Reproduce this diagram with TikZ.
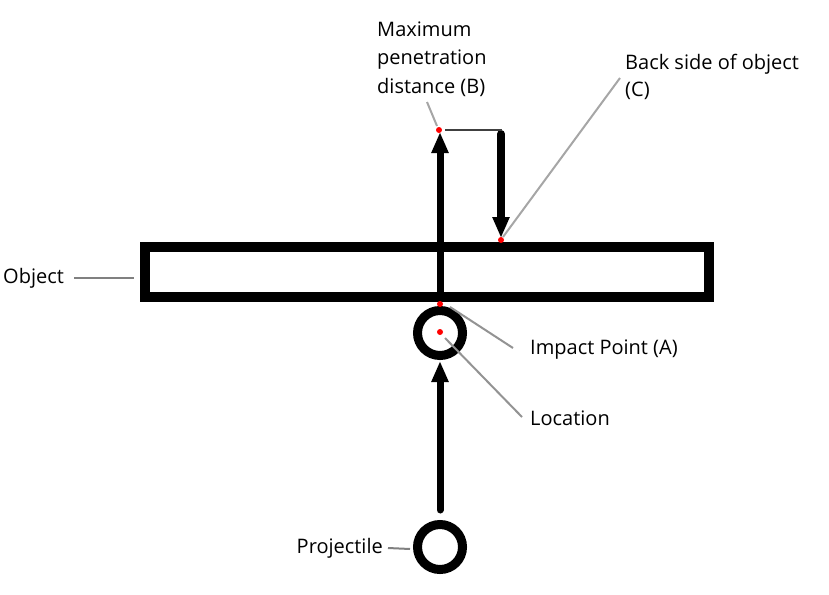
\documentclass[tikz,border=0pt]{standalone}
\usepackage{fontspec}
\setmainfont{Open Sans}
\usetikzlibrary{arrows.meta}

\begin{document}
\begin{tikzpicture}[x=1pt, y=-1pt, >={Triangle[length=21pt,width=16pt]},
  font=\fontsize{20}{28.5}\selectfont,
  lead/.style={draw=gray!85, line width=2pt},
  reddot/.style={circle, fill=red, inner sep=0pt, minimum size=6pt},
  ring/.style={circle, draw, line width=9pt, minimum size=45pt, inner sep=0pt},
  lbl/.style={anchor=west, inner sep=0pt, align=left}]
  \useasboundingbox (0,0) rectangle (829,594);
  % object and projectile
  \node[draw, line width=10pt, minimum width=564pt, minimum height=50pt, inner sep=0pt] (obj) at (427,272) {};
  \node[ring] (loc) at (440,333) {};
  \node[ring] (proj) at (440,547) {};
  % red marks
  \node[reddot] (dotA) at (440,304) {};
  \node[reddot] (dotL) at (440,332) {};
  \node[reddot] (dotB) at (439,130) {};
  \node[reddot] (dotC) at (501,240) {};
  % labels
  \node[lbl] (lobj) at (3,278) {Object};
  \node[lbl, anchor=east] (lproj) at (383,548) {Projectile};
  \node[lbl] (limp) at (530,350) {Impact Point (A)};
  \node[lbl] (lloc) at (530,418) {Location};
  \node[lbl] (lmax) at (377,59) {Maximum\\penetration\\distance (B)};
  \node[lbl, font=\fontsize{20}{27}\selectfont] (lback) at (625,77) {Back side of object\\(C)};
  % motion arrows
  \coordinate (pstart) at (440,510);
  \coordinate (pend) at (440,361);
  \draw[->, line width=7pt, line cap=round] (pstart) -- (pend);
  \coordinate (ustart) at (440,292);
  \coordinate (uend) at (440,132);
  \draw[->, line width=7pt] (ustart) -- (uend);
  \coordinate (dstart) at (501,134);
  \coordinate (dend) at (501,238);
  \draw[->, line width=8pt, line cap=round] (dstart) -- (dend);
  \coordinate (hstart) at (445,130);
  \coordinate (hend) at (502,130);
  \draw[draw=black!75, line width=2.5pt] (hstart) -- (hend);
  % leaders
  \coordinate (a1) at (74,278);   \coordinate (a2) at (134,278);
  \draw[lead, draw=gray] (a1) -- (a2);
  \coordinate (b1) at (388,548);  \coordinate (b2) at (410,549);
  \draw[lead, draw=gray] (b1) -- (b2);
  \coordinate (c1) at (450,307);  \coordinate (c2) at (513,348);
  \draw[lead] (c1) -- (c2);
  \coordinate (d1) at (445,338);  \coordinate (d2) at (522,417);
  \draw[lead] (d1) -- (d2);
  \coordinate (e1) at (427,102);  \coordinate (e2) at (437,126);
  \draw[lead, draw=gray!70] (e1) -- (e2);
  \coordinate (f1) at (620,78);   \coordinate (f2) at (503,237);
  \draw[lead, draw=gray!70] (f1) -- (f2);
\end{tikzpicture}
\end{document}
